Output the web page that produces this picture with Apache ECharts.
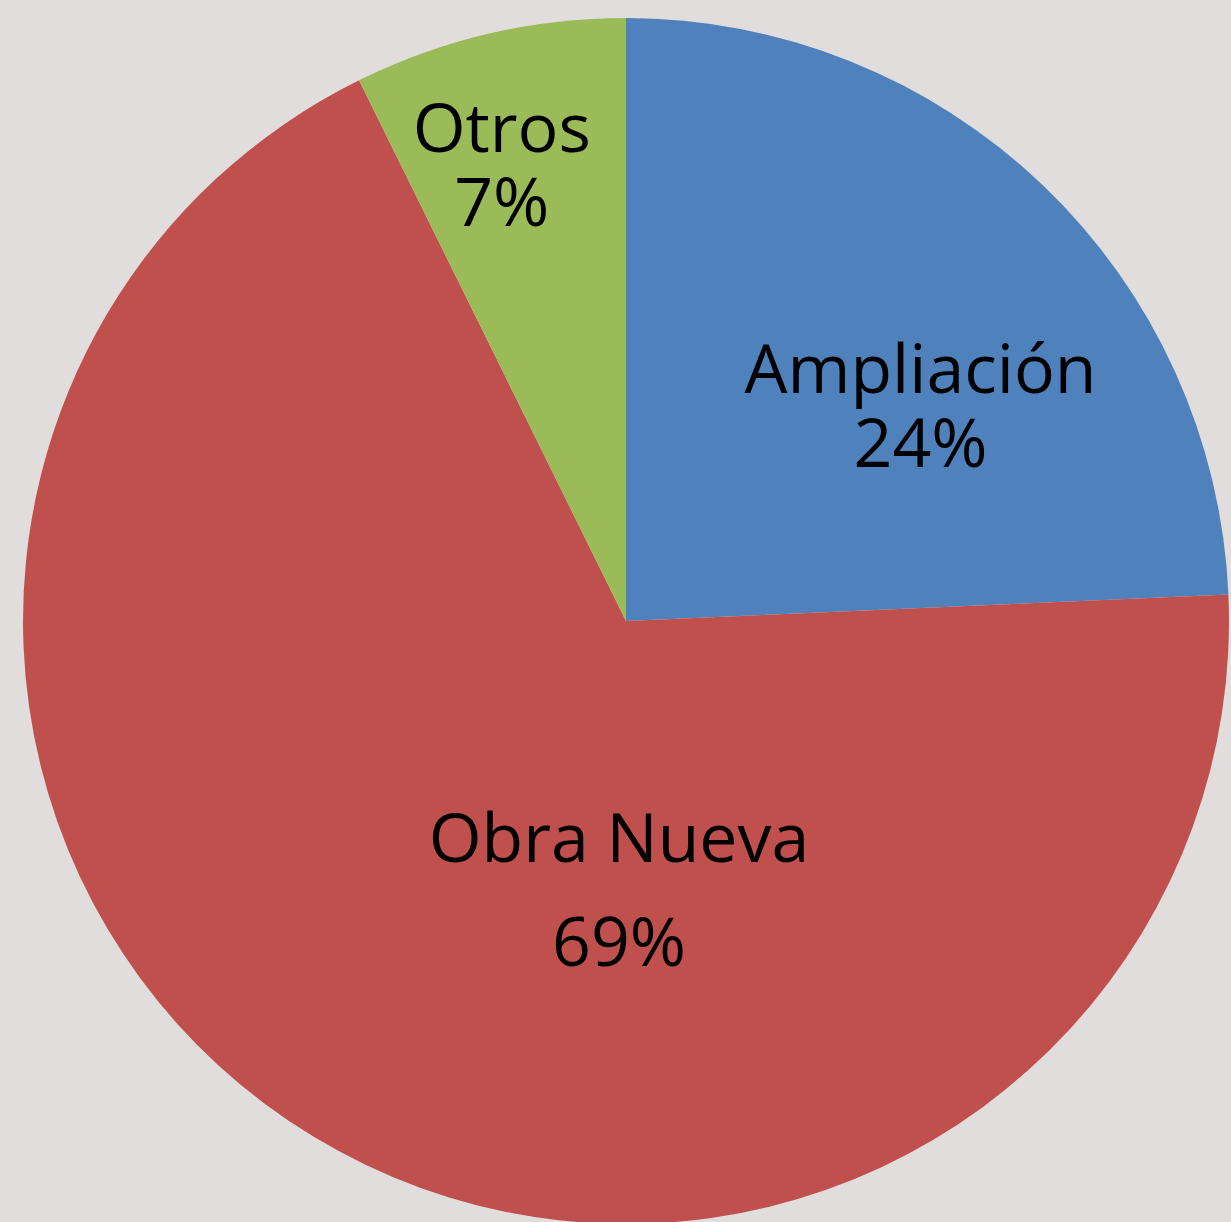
<!DOCTYPE html>
<html>
<head>
<meta charset="utf-8">
<title>Obras</title>
<script src="https://cdn.jsdelivr.net/npm/echarts@6/dist/echarts.min.js"></script>
<style>
  html, body { margin: 0; padding: 0; background: #E0DDDC; }
  #chart { width: 1231px; height: 1222px; }
</style>
</head>
<body>
<div id="chart"></div>
<script>
// datos
var categorias = ['Ampliación', 'Obra Nueva', 'Otros'];
var valores = [24.3, 68.4, 7.3];
var colores = ['#4F81BD', '#C0504D', '#9BBB59'];

// desplazamiento de etiquetas respecto a la posicion "inside"
var desplaz = [[84, 10], [148, 12], [-55, -155]];
var interlineas = [74, 104, 74];

var datos = [];
for (var i = 0; i < categorias.length; i++) {
  datos.push({
    name: categorias[i],
    value: valores[i],
    itemStyle: { color: colores[i] },
    label: { lineHeight: interlineas[i] }
  });
}

var chart = echarts.init(document.getElementById('chart'));
chart.setOption({
  backgroundColor: '#E0DDDC',
  animation: false,
  series: [{
    type: 'pie',
    center: [626, 621],
    radius: 603,
    startAngle: 90,
    clockwise: true,
    avoidLabelOverlap: false,
    percentPrecision: 0,
    label: {
      show: true,
      position: 'inside',
      formatter: '{b}\n{d}%',
      fontFamily: 'Open Sans',
      fontSize: 68,
      color: '#000'
    },
    labelLine: { show: false },
    labelLayout: function (params) {
      var d = desplaz[params.dataIndex];
      return { dx: d[0], dy: d[1] };
    },
    itemStyle: { borderWidth: 0 },
    emphasis: { disabled: true },
    data: datos
  }]
});
</script>
</body>
</html>
